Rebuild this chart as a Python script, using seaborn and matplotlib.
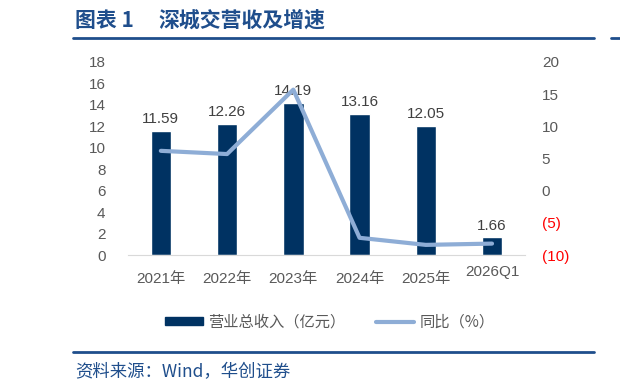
import matplotlib
matplotlib.use("Agg")
import matplotlib.pyplot as plt
import matplotlib.transforms as mtransforms
import seaborn as sns
import numpy as np
import pandas as pd
from matplotlib.lines import Line2D
from matplotlib.patches import Patch

categories = ["2021年", "2022年", "2023年", "2024年", "2025年", "2026Q1"]
revenue = [11.59, 12.26, 14.19, 13.16, 12.05, 1.66]
yoy = [6.2, 5.7, 15.7, -7.3, -8.4, -8.2]
left_ticks = [0, 2, 4, 6, 8, 10, 12, 14, 16, 18]
right_ticks = [-10, -5, 0, 5, 10, 15, 20]
right_labels = ["(10)", "(5)", "0", "5", "10", "15", "20"]

sns.set_style("white")
plt.rcParams["font.family"] = ["Noto Sans CJK SC", "DejaVu Sans"]

bar_color = "#003262"
line_color = "#8EADD6"
tick_color = "#595959"
title_color = "#1F4E8C"

df = pd.DataFrame({"cat": categories, "rev": revenue, "yoy": yoy})

fig = plt.figure(figsize=(6.2, 3.92), dpi=100)
ax = fig.add_axes([0.206, 0.349, 0.641, 0.493])

sns.barplot(data=df, x="cat", y="rev", color=bar_color, width=0.31,
            saturation=1, ax=ax)
ax.set_ylim(0, 18)
ax.set_yticks(left_ticks)
ax.set_xlabel("")
ax.set_ylabel("")
for i, v in enumerate(revenue):
    ax.text(i, v + 0.45, f"{v:.2f}", ha="center", va="bottom", fontsize=11,
            color="#404040", family=["Liberation Sans", "DejaVu Sans"])

ax2 = ax.twinx()
sns.lineplot(x=np.arange(len(categories)), y=yoy, color=line_color,
             linewidth=3, ax=ax2)
ax2.set_ylim(-10, 20)
ax2.set_yticks(right_ticks)
ax2.set_yticklabels(right_labels)
ax.set_xlim(-0.5, len(categories) - 0.5)

for a in (ax, ax2):
    for s in ["top", "left", "right"]:
        a.spines[s].set_visible(False)
    a.tick_params(length=0, colors=tick_color, labelsize=11)
ax.spines["bottom"].set_color("#D9D9D9")
ax2.spines["bottom"].set_visible(False)
ax.tick_params(axis="y", pad=16)
ax.tick_params(axis="x", pad=12)
ax2.tick_params(axis="y", pad=12)
for lab in ax.get_xticklabels() + ax.get_yticklabels() + ax2.get_yticklabels():
    lab.set_family(["Liberation Sans", "Noto Sans CJK SC"])
for lab in ax2.get_yticklabels():
    if lab.get_text().startswith("("):
        lab.set_color("#FF0000")
last = ax.get_xticklabels()[-1]
last.set_transform(last.get_transform() +
                   mtransforms.ScaledTranslation(0, 5 / 72, fig.dpi_scale_trans))

handles = [Patch(color=bar_color), Line2D([], [], color=line_color, lw=3)]
fig.legend(handles, ["营业总收入（亿元）", "同比（%）"], loc="center",
           bbox_to_anchor=(0.532, 0.178), ncol=2, frameon=False, fontsize=11,
           handlelength=2.5, handleheight=0.45, handletextpad=0.35,
           columnspacing=2.0, labelcolor=tick_color)

fig.text(0.121, 0.948, "图表 1", fontsize=15, weight="bold",
         color=title_color, va="center")
fig.text(0.256, 0.948, "深城交营收及增速", fontsize=15, weight="bold",
         color=title_color, va="center")
fig.add_artist(Line2D([0.118, 0.958], [0.902, 0.902], color=title_color, lw=2))
fig.add_artist(Line2D([0.985, 1.0], [0.902, 0.902], color=title_color, lw=2))
fig.add_artist(Line2D([0.118, 0.958], [0.102, 0.102], color=title_color, lw=2))
fig.text(0.121, 0.051, "资料来源：Wind，华创证券", fontsize=12.5, style="italic",
         color=title_color, va="center")

fig.savefig("out.png", dpi=100)
